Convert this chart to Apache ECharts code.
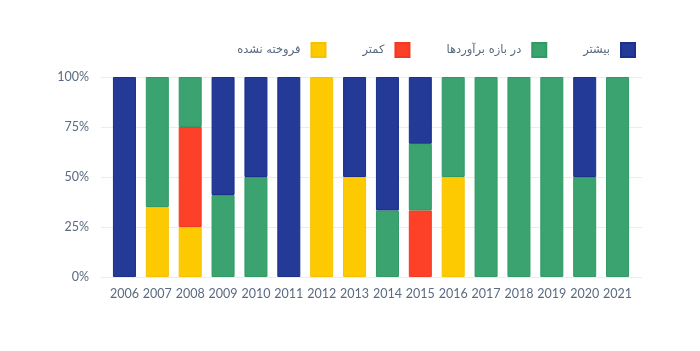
<!DOCTYPE html>
<html>
<head>
<meta charset="utf-8">
<script src="https://cdn.jsdelivr.net/npm/echarts@6/dist/echarts.min.js"></script>
<style>
html, body { margin: 0; padding: 0; background: #fff; }
#chart { width: 700px; height: 351px; }
</style>
</head>
<body>
<div id="chart"></div>
<script>
var years = ['2006', '2007', '2008', '2009', '2010', '2011', '2012', '2013', '2014', '2015', '2016', '2017', '2018', '2019', '2020', '2021']
// stacked from bottom: unsold, lower, within range, higher
var unsold = [0, 35, 25, 0, 0, 0, 100, 50, 0, 0, 50, 0, 0, 0, 0, 0]
var lower = [0, 0, 50, 0, 0, 0, 0, 0, 0, 33.3, 0, 0, 0, 0, 0, 0]
var within = [0, 65, 25, 41, 50, 0, 0, 0, 33.3, 33.3, 50, 100, 100, 100, 50, 100]
var higher = [100, 0, 0, 59, 50, 100, 0, 50, 66.7, 33.4, 0, 0, 0, 0, 50, 0]
var yTicks = [0, 25, 50, 75, 100]

var names = ['بیشتر', 'در بازه برآوردها', 'کمتر', 'فروخته نشده']
var colors = ['#233a97', '#3ba36f', '#fc4128', '#fdca02']
var borders = ['#1b2f8c', '#2f9a63', '#f03a22', '#f6c200']

var labelColor = '#5a6a80'
var font = 'Lato, "DejaVu Sans", sans-serif'

function barSeries(idx, data) {
  return {
    name: names[idx],
    type: 'bar',
    stack: 'all',
    xAxisIndex: 1,
    yAxisIndex: 1,
    barWidth: 23,
    itemStyle: { color: colors[idx], borderColor: borders[idx], borderWidth: 1 },
    // empty segments are skipped so no border sliver is drawn
    data: data.map(function (v) { return v === 0 ? null : v })
  }
}

var chart = echarts.init(document.getElementById('chart'))
chart.setOption({
  animation: false,
  legend: {
    right: 59,
    top: 37,
    itemWidth: 14,
    itemHeight: 14,
    itemGap: 36,
    align: 'right',
    icon: 'rect',
    data: [names[3], names[2], names[1], names[0]],
    textStyle: { fontFamily: '"DejaVu Sans", sans-serif', fontSize: 11.5, color: '#5a6a80', padding: [0, 6, 3, 0] }
  },
  grid: [
    { left: 101, right: 58, top: 77, bottom: 74 },
    { left: 108, right: 66, top: 77, bottom: 74 }
  ],
  xAxis: [
    { type: 'category', gridIndex: 0, data: years, show: false },
    {
      type: 'category', gridIndex: 1, data: years,
      axisLine: { show: false }, axisTick: { show: false },
      axisLabel: { interval: 0, color: labelColor, fontFamily: font, fontSize: 12.5, margin: 10 }
    }
  ],
  yAxis: [
    {
      type: 'value', gridIndex: 0, min: 0, max: 100, interval: 25,
      axisLine: { show: false }, axisTick: { show: false },
      splitLine: { lineStyle: { color: '#e9edf1', width: 1 } },
      axisLabel: {
        color: labelColor, fontFamily: font, fontSize: 12.5, margin: 12,
        formatter: function (v) { return yTicks.indexOf(v) >= 0 ? v + '%' : '' }
      }
    },
    { type: 'value', gridIndex: 1, min: 0, max: 100, show: false }
  ],
  series: [
    barSeries(3, unsold),
    barSeries(2, lower),
    barSeries(1, within),
    barSeries(0, higher)
  ]
})
</script>
</body>
</html>
